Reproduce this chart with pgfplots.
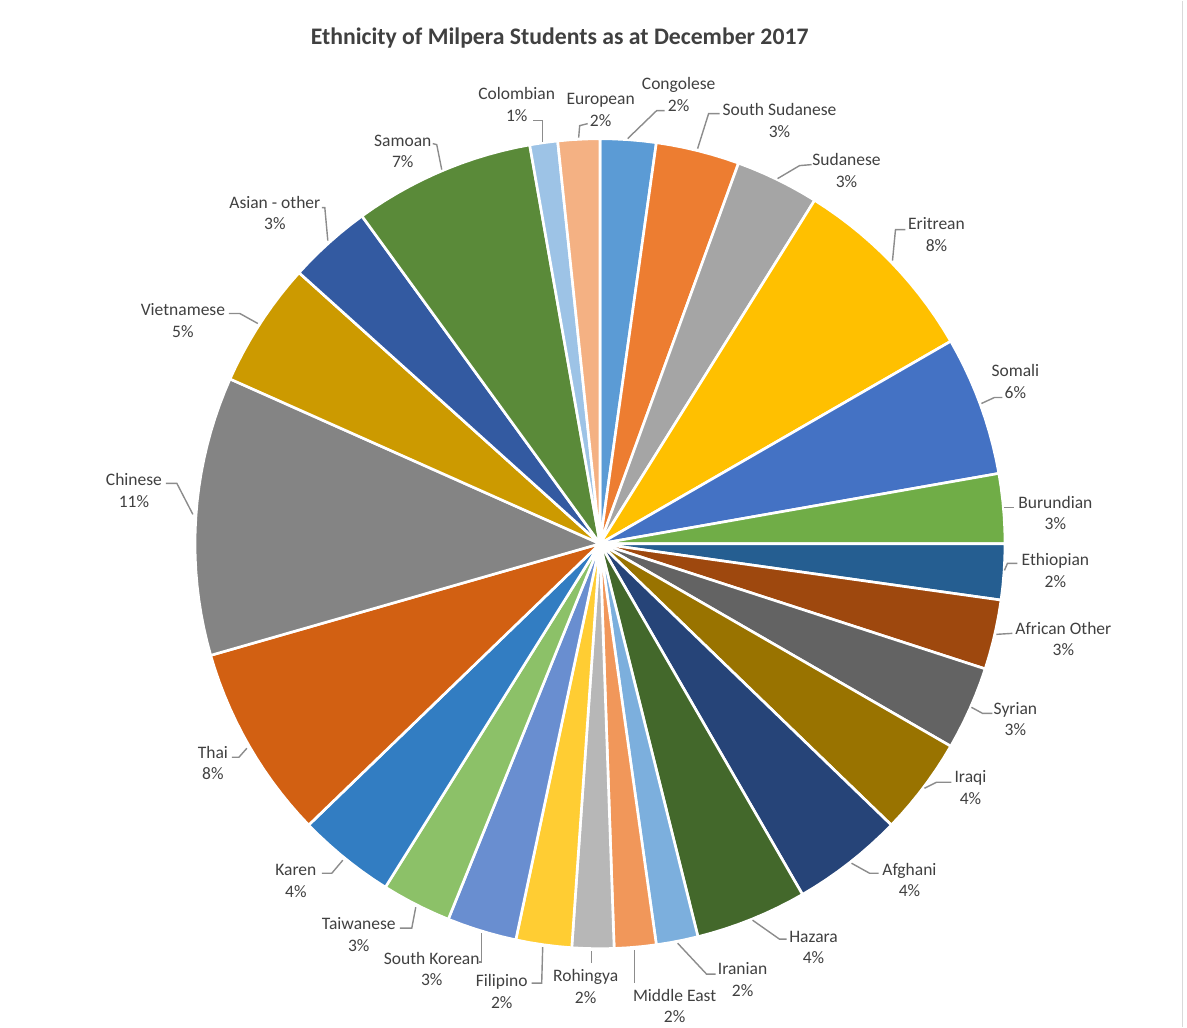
\documentclass[border=0pt]{standalone}
\usepackage{fontspec}
\setmainfont{Carlito}
\usepackage{pgfplots}
\pgfplotsset{compat=1.18}
\usepgfplotslibrary{polar}
\definecolor{cCongolese}{HTML}{5B9BD5}
\definecolor{cSSudanese}{HTML}{ED7D31}
\definecolor{cSudanese}{HTML}{A5A5A5}
\definecolor{cEritrean}{HTML}{FFC000}
\definecolor{cSomali}{HTML}{4472C4}
\definecolor{cBurundian}{HTML}{70AD47}
\definecolor{cEthiopian}{HTML}{255E91}
\definecolor{cAfrOther}{HTML}{9E480E}
\definecolor{cSyrian}{HTML}{636363}
\definecolor{cIraqi}{HTML}{997300}
\definecolor{cAfghani}{HTML}{264478}
\definecolor{cHazara}{HTML}{43682B}
\definecolor{cIranian}{HTML}{7CAFDD}
\definecolor{cMidEast}{HTML}{F1975A}
\definecolor{cRohingya}{HTML}{B7B7B7}
\definecolor{cFilipino}{HTML}{FFCD33}
\definecolor{cSKorean}{HTML}{698ED0}
\definecolor{cTaiwanese}{HTML}{8CC168}
\definecolor{cKaren}{HTML}{327DC2}
\definecolor{cThai}{HTML}{D26012}
\definecolor{cChinese}{HTML}{848484}
\definecolor{cVietnamese}{HTML}{CC9A00}
\definecolor{cAsianOther}{HTML}{335AA1}
\definecolor{cSamoan}{HTML}{5A8A39}
\definecolor{cColombian}{HTML}{9DC3E6}
\definecolor{cEuropean}{HTML}{F4B183}
\definecolor{txt}{HTML}{404040}
\definecolor{leader}{HTML}{8C8C8C}
\begin{document}
\begin{tikzpicture}
\path (0,0) rectangle (11.87cm,-10.27cm);
% Student counts (total 180, 1 student = 2 degrees), drawn clockwise from 12 o'clock
\begin{polaraxis}[hide axis, scale only axis, width=8.1cm, height=8.1cm,
  xmin=0, xmax=360, ymin=0, ymax=1, clip=false,
  at={(6.00cm,-5.43cm)}, anchor=center,
  every axis plot/.append style={draw=white, line width=0.75pt, line join=round}]
% Congolese 4
\addplot[fill=cCongolese] coordinates {(82,1)(84,1)(86,1)(88,1)(90,1)} -- (axis cs:0,0) -- cycle;
% South Sudanese 6
\addplot[fill=cSSudanese] coordinates {(70,1)(72,1)(74,1)(76,1)(78,1)(80,1)(82,1)} -- (axis cs:0,0) -- cycle;
% Sudanese 6
\addplot[fill=cSudanese] coordinates {(58,1)(60,1)(62,1)(64,1)(66,1)(68,1)(70,1)} -- (axis cs:0,0) -- cycle;
% Eritrean 14
\addplot[fill=cEritrean] coordinates {(30,1)(32,1)(34,1)(36,1)(38,1)(40,1)(42,1)(44,1)(46,1)(48,1)(50,1)(52,1)(54,1)(56,1)(58,1)} -- (axis cs:0,0) -- cycle;
% Somali 10
\addplot[fill=cSomali] coordinates {(10,1)(12,1)(14,1)(16,1)(18,1)(20,1)(22,1)(24,1)(26,1)(28,1)(30,1)} -- (axis cs:0,0) -- cycle;
% Burundian 5
\addplot[fill=cBurundian] coordinates {(0,1)(2,1)(4,1)(6,1)(8,1)(10,1)} -- (axis cs:0,0) -- cycle;
% Ethiopian 4
\addplot[fill=cEthiopian] coordinates {(352,1)(354,1)(356,1)(358,1)(360,1)} -- (axis cs:0,0) -- cycle;
% African Other 5
\addplot[fill=cAfrOther] coordinates {(342,1)(344,1)(346,1)(348,1)(350,1)(352,1)} -- (axis cs:0,0) -- cycle;
% Syrian 6
\addplot[fill=cSyrian] coordinates {(330,1)(332,1)(334,1)(336,1)(338,1)(340,1)(342,1)} -- (axis cs:0,0) -- cycle;
% Iraqi 7
\addplot[fill=cIraqi] coordinates {(316,1)(318,1)(320,1)(322,1)(324,1)(326,1)(328,1)(330,1)} -- (axis cs:0,0) -- cycle;
% Afghani 8
\addplot[fill=cAfghani] coordinates {(300,1)(302,1)(304,1)(306,1)(308,1)(310,1)(312,1)(314,1)(316,1)} -- (axis cs:0,0) -- cycle;
% Hazara 8
\addplot[fill=cHazara] coordinates {(284,1)(286,1)(288,1)(290,1)(292,1)(294,1)(296,1)(298,1)(300,1)} -- (axis cs:0,0) -- cycle;
% Iranian 3
\addplot[fill=cIranian] coordinates {(278,1)(280,1)(282,1)(284,1)} -- (axis cs:0,0) -- cycle;
% Middle East 3
\addplot[fill=cMidEast] coordinates {(272,1)(274,1)(276,1)(278,1)} -- (axis cs:0,0) -- cycle;
% Rohingya 3
\addplot[fill=cRohingya] coordinates {(266,1)(268,1)(270,1)(272,1)} -- (axis cs:0,0) -- cycle;
% Filipino 4
\addplot[fill=cFilipino] coordinates {(258,1)(260,1)(262,1)(264,1)(266,1)} -- (axis cs:0,0) -- cycle;
% South Korean 5
\addplot[fill=cSKorean] coordinates {(248,1)(250,1)(252,1)(254,1)(256,1)(258,1)} -- (axis cs:0,0) -- cycle;
% Taiwanese 5
\addplot[fill=cTaiwanese] coordinates {(238,1)(240,1)(242,1)(244,1)(246,1)(248,1)} -- (axis cs:0,0) -- cycle;
% Karen 7
\addplot[fill=cKaren] coordinates {(224,1)(226,1)(228,1)(230,1)(232,1)(234,1)(236,1)(238,1)} -- (axis cs:0,0) -- cycle;
% Thai 14
\addplot[fill=cThai] coordinates {(196,1)(198,1)(200,1)(202,1)(204,1)(206,1)(208,1)(210,1)(212,1)(214,1)(216,1)(218,1)(220,1)(222,1)(224,1)} -- (axis cs:0,0) -- cycle;
% Chinese 20
\addplot[fill=cChinese] coordinates {(156,1)(158,1)(160,1)(162,1)(164,1)(166,1)(168,1)(170,1)(172,1)(174,1)(176,1)(178,1)(180,1)(182,1)(184,1)(186,1)(188,1)(190,1)(192,1)(194,1)(196,1)} -- (axis cs:0,0) -- cycle;
% Vietnamese 9
\addplot[fill=cVietnamese] coordinates {(138,1)(140,1)(142,1)(144,1)(146,1)(148,1)(150,1)(152,1)(154,1)(156,1)} -- (axis cs:0,0) -- cycle;
% Asian - other 6
\addplot[fill=cAsianOther] coordinates {(126,1)(128,1)(130,1)(132,1)(134,1)(136,1)(138,1)} -- (axis cs:0,0) -- cycle;
% Samoan 13
\addplot[fill=cSamoan] coordinates {(100,1)(102,1)(104,1)(106,1)(108,1)(110,1)(112,1)(114,1)(116,1)(118,1)(120,1)(122,1)(124,1)(126,1)} -- (axis cs:0,0) -- cycle;
% Colombian 2
\addplot[fill=cColombian] coordinates {(96,1)(98,1)(100,1)} -- (axis cs:0,0) -- cycle;
% European 3
\addplot[fill=cEuropean] coordinates {(90,1)(92,1)(94,1)(96,1)} -- (axis cs:0,0) -- cycle;
\end{polaraxis}
\begin{scope}[x=0.01cm, y=-0.01cm]
\draw[draw=black!15, line width=0.4pt] (1183,0) -- (1183,1027);
\node[font=\fontsize{6.75pt}{8pt}\selectfont\bfseries, text=txt, inner sep=0] at (560,37) {Ethnicity of Milpera Students as at December 2017};
\begin{scope}[draw=leader, line width=0.4pt]
\draw (543,141) -- (543,120) -- (533,120);
\draw (579,137) -- (580,125) -- (588,123);
\draw (628,138) -- (657,110) -- (665,110);
\draw (698,148) -- (709,113) -- (720,113);
\draw (778,178) -- (800,165) -- (812,164);
\draw (893,260) -- (896,229) -- (906,229);
\draw (982,403) -- (995,397) -- (1003,397);
\draw (1005,507) -- (1015,507);
\draw (1005,570) -- (1008,563) -- (1018,563);
\draw (997,634) -- (1013,633);
\draw (972,707) -- (983,713) -- (993,713);
\draw (925,788) -- (937,782) -- (952,782);
\draw (852,863) -- (870,873) -- (879,873);
\draw (753,920) -- (780,939) -- (787,939);
\draw (678,943) -- (707,974) -- (716,974);
\draw (635,950) -- (635,983);
\draw (592,951) -- (592,963);
\draw (543,947) -- (542,983) -- (532,983);
\draw (482,933) -- (482,962) -- (479,962);
\draw (416,907) -- (412,928) -- (400,928);
\draw (343,860) -- (332,873) -- (322,873);
\draw (247,748) -- (239,757) -- (232,757);
\draw (193,514) -- (177,483) -- (166,483);
\draw (258,323) -- (240,313) -- (229,313);
\draw (328,240) -- (325,207) -- (322,207);
\draw (442,169) -- (437,144) -- (433,143);
\end{scope}
\begin{scope}[every node/.style={font=\fontsize{4.98pt}{6.12pt}\selectfont, text=txt, align=center, inner sep=0}]
\node at (517,104) {Colombian\\1\%};
\node at (601,109.5) {European\\2\%};
\node at (679,94) {Congolese\\2\%};
\node at (780,120) {South Sudanese\\3\%};
\node at (847,170) {Sudanese\\3\%};
\node at (937,234) {Eritrean\\8\%};
\node at (1016,381) {Somali\\6\%};
\node at (1056,512.5) {Burundian\\3\%};
\node at (1056,570) {Ethiopian\\2\%};
\node at (1064,638.5) {African Other\\3\%};
\node at (1016,718.5) {Syrian\\3\%};
\node at (971,787.5) {Iraqi\\4\%};
\node at (910,880) {Afghani\\4\%};
\node at (814,947.5) {Hazara\\4\%};
\node at (743,979.5) {Iranian\\2\%};
\node at (675,1006) {Middle East\\2\%};
\node at (586,986.5) {Rohingya\\2\%};
\node at (502,991.5) {Filipino\\2\%};
\node at (432,969) {South Korean\\3\%};
\node at (359,934.5) {Taiwanese\\3\%};
\node at (296,880.5) {Karen\\4\%};
\node at (213,762.5) {Thai\\8\%};
\node at (134,490) {Chinese\\11\%};
\node at (183,320) {Vietnamese\\5\%};
\node at (275,212.5) {Asian - other\\3\%};
\node at (403,151) {Samoan\\7\%};
\end{scope}
\end{scope}
\end{tikzpicture}
\end{document}
